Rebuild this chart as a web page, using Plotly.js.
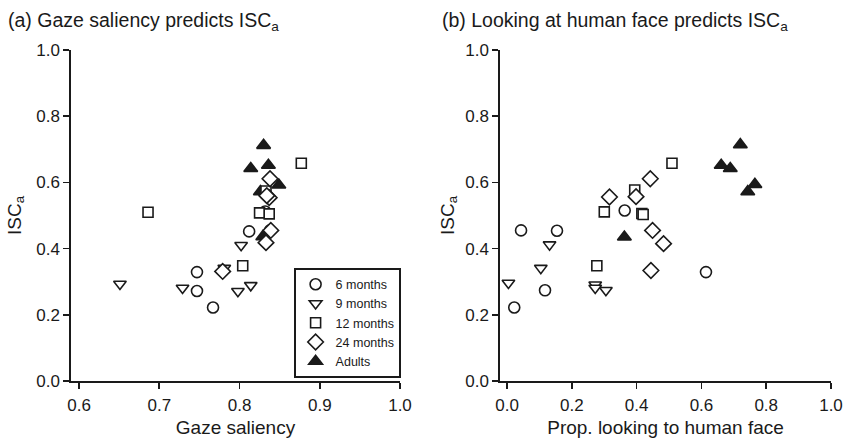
<!DOCTYPE html>
<html>
<head>
<meta charset="utf-8">
<script src="https://cdn.plot.ly/plotly-3.0.1.min.js"></script>
<style>html,body{margin:0;padding:0;background:#fff;}#chart{width:848px;height:438px;}</style>
</head>
<body>
<div id="chart"></div>
<script>
// Panel (a): gaze saliency vs ISCa
const groups = ["6 months", "9 months", "12 months", "24 months", "Adults"];

const gaze6m   = [0.747, 0.747, 0.767, 0.812, 0.832, 0.838];
const isc6m_a  = [0.329, 0.272, 0.222, 0.452, 0.512, 0.455];
const gaze9m   = [0.651, 0.729, 0.781, 0.802, 0.798, 0.814];
const isc9m_a  = [0.293, 0.281, 0.341, 0.410, 0.271, 0.289];
const gaze12m  = [0.686, 0.804, 0.825, 0.837, 0.833, 0.877];
const isc12m_a = [0.510, 0.348, 0.508, 0.505, 0.574, 0.658];
const gaze24m  = [0.779, 0.838, 0.837, 0.834, 0.839, 0.833];
const isc24m_a = [0.331, 0.611, 0.554, 0.560, 0.455, 0.418];
const gazeAd   = [0.830, 0.814, 0.836, 0.849, 0.826, 0.829];
const iscAd_a  = [0.712, 0.642, 0.652, 0.592, 0.572, 0.436];

// Panel (b): proportion looking to human face vs ISCa
const face6m   = [0.043, 0.154, 0.117, 0.022, 0.363, 0.614];
const isc6m_b  = [0.455, 0.454, 0.274, 0.222, 0.515, 0.329];
const face9m   = [0.004, 0.104, 0.131, 0.272, 0.272, 0.305];
const isc9m_b  = [0.296, 0.341, 0.412, 0.291, 0.281, 0.274];
const face12m  = [0.300, 0.277, 0.394, 0.416, 0.420, 0.509];
const isc12m_b = [0.511, 0.348, 0.577, 0.506, 0.503, 0.658];
const face24m  = [0.316, 0.442, 0.398, 0.449, 0.483, 0.444];
const isc24m_b = [0.556, 0.611, 0.557, 0.455, 0.415, 0.334];
const faceAd   = [0.720, 0.661, 0.689, 0.765, 0.743, 0.362];
const iscAd_b  = [0.714, 0.652, 0.642, 0.594, 0.572, 0.435];

const xTicksA = [0.6, 0.7, 0.8, 0.9, 1.0];
const xTicksB = [0.0, 0.2, 0.4, 0.6, 0.8, 1.0];
const yTicks  = [0.0, 0.2, 0.4, 0.6, 0.8, 1.0];

const titleA = "(a) Gaze saliency predicts ISC<sub>a</sub>";
const titleB = "(b) Looking at human face predicts ISC<sub>a</sub>";
const xTitleA = "Gaze saliency";
const xTitleB = "Prop. looking to human face";
const yTitle = "ISC<sub>a</sub>";

const FONT = "Liberation Sans, Arial, Helvetica, sans-serif";
const INK = "#1a1a1a";

const styles = [
  {symbol: "circle", size: 11},
  {symbol: "triangle-down", size: 11},
  {symbol: "square", size: 10},
  {symbol: "diamond", size: 12},
  {symbol: "triangle-up", size: 12}
];
const dataA = [[gaze6m, isc6m_a], [gaze9m, isc9m_a], [gaze12m, isc12m_a], [gaze24m, isc24m_a], [gazeAd, iscAd_a]];
const dataB = [[face6m, isc6m_b], [face9m, isc9m_b], [face12m, isc12m_b], [face24m, isc24m_b], [faceAd, iscAd_b]];

function mk(i, xy, xa, ya, show) {
  const filled = (i === 4);
  return {
    type: "scatter", mode: "markers",
    x: xy[0], y: xy[1], xaxis: xa, yaxis: ya,
    name: groups[i], showlegend: show, legendrank: i + 1,
    marker: {
      symbol: styles[i].symbol, size: styles[i].size,
      color: filled ? INK : "#ffffff",
      line: {color: INK, width: 1.6}
    },
    hoverinfo: "x+y"
  };
}

// draw adults first so open markers sit on top as in the reference
const order = [4, 0, 1, 2, 3];
const traces = [];
order.forEach(i => traces.push(mk(i, dataA[i], "x", "y", true)));
order.forEach(i => traces.push(mk(i, dataB[i], "x2", "y2", false)));

const W = 848, H = 438;
const yDom = [(H - 381) / H, (H - 50) / H];

function axisCommon(extra) {
  return Object.assign({
    showline: true, linecolor: INK, linewidth: 1.6,
    ticks: "outside", ticklen: 6, tickwidth: 1.6, tickcolor: INK,
    showgrid: false, zeroline: false,
    tickfont: {family: FONT, size: 17, color: INK},
    fixedrange: true
  }, extra);
}

const layout = {
  width: W, height: H,
  margin: {l: 0, r: 0, t: 0, b: 0},
  paper_bgcolor: "#ffffff", plot_bgcolor: "#ffffff",
  font: {family: FONT, color: INK},
  showlegend: true,
  legend: {
    x: 294 / W, y: (H - 268) / H, xanchor: "left", yanchor: "top",
    bgcolor: "#ffffff", bordercolor: INK, borderwidth: 1.6,
    font: {family: FONT, size: 12.5, color: INK},
    traceorder: "normal", itemwidth: 30, tracegroupgap: 0
  },
  xaxis: axisCommon({
    domain: [71 / W, 400 / W], range: [0.59, 1.0],
    tickvals: xTicksA, ticktext: xTicksA.map(v => v.toFixed(1)),
    ticklabelstandoff: 2,
    title: {text: xTitleA, font: {family: FONT, size: 19, color: INK}, standoff: 8},
    anchor: "y"
  }),
  yaxis: axisCommon({
    domain: yDom, range: [0, 1.0],
    tickvals: yTicks, ticktext: yTicks.map(v => v.toFixed(1)),
    title: {text: yTitle, font: {family: FONT, size: 19, color: INK}, standoff: 10},
    anchor: "x"
  }),
  xaxis2: axisCommon({
    domain: [500 / W, 831 / W], range: [-0.022, 1.0],
    tickvals: xTicksB, ticktext: xTicksB.map(v => v.toFixed(1)),
    ticklabelstandoff: 2,
    title: {text: xTitleB, font: {family: FONT, size: 19, color: INK}, standoff: 8},
    anchor: "y2"
  }),
  yaxis2: axisCommon({
    domain: yDom, range: [0, 1.0],
    tickvals: yTicks, ticktext: yTicks.map(v => v.toFixed(1)),
    title: {text: yTitle, font: {family: FONT, size: 19, color: INK}, standoff: 6},
    anchor: "x2"
  }),
  annotations: [
    {text: titleA, xref: "paper", yref: "paper", x: 6 / W, y: (H - 7) / H,
     xanchor: "left", yanchor: "top", showarrow: false,
     font: {family: FONT, size: 19.5, color: INK}},
    {text: titleB, xref: "paper", yref: "paper", x: 440 / W, y: (H - 7) / H,
     xanchor: "left", yanchor: "top", showarrow: false,
     font: {family: FONT, size: 19.5, color: INK}}
  ]
};

Plotly.newPlot("chart", traces, layout, {displayModeBar: false, staticPlot: true});
</script>
</body>
</html>
